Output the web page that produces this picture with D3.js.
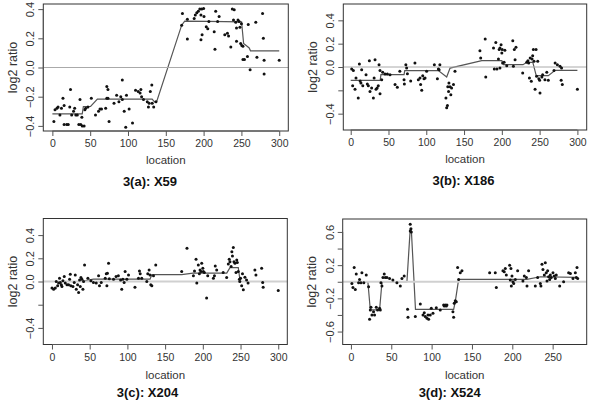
<!DOCTYPE html>
<html><head><meta charset="utf-8">
<script src="https://cdn.jsdelivr.net/npm/d3@7/dist/d3.min.js"></script>
<style>
html,body{margin:0;padding:0;background:#fff;}
text{font-family:"Liberation Sans",Arial,sans-serif;}
</style></head>
<body>
<svg id="chart" width="600" height="404"></svg>
<script>
// ---------- Panel 3(a): X59 ----------
const aTitle = "3(a): X59";
const aX = [2,3.5,6,7.5,10,12,14,15.5,15.5,19,21,24,23,25.5,28,29.5,31,33,35,36.5,37.5,39.5,42,39,43,44,47,51.5,57,61,63,65,70.5,72,72,73.5,73.5,75,81.5,85,88,90.5,92.5,92.5,95,97,98,101.5,106,110,113.5,116,117,118,120.5,125.5,127,128,129.5,131.5,132,134,137,
  172,171,178.5,178.5,187.5,189,191,193,195,197.5,200,200.5,196.5,198,196.5,203.5,205.5,207,214,215,216,218.5,220.5,228,231.5,233,236,238,240.5,239.5,242.5,243.5,243.5,245.5,247,248,250,249,250.5,252,252,254,258,259,261.5,269,270.5,278,279,280,280,300];
const aY = [-0.37,-0.29,-0.28,-0.27,-0.325,-0.28,-0.21,-0.26,-0.39,-0.39,-0.39,-0.15,-0.27,-0.325,-0.30,-0.28,-0.325,-0.325,-0.39,-0.22,-0.39,-0.40,-0.40,-0.34,-0.29,-0.28,-0.27,-0.21,-0.325,-0.30,-0.285,-0.285,-0.28,-0.21,-0.13,-0.15,-0.21,-0.37,-0.245,-0.19,-0.235,-0.20,-0.085,-0.22,-0.30,-0.41,-0.19,-0.285,-0.38,-0.155,-0.165,-0.175,-0.15,-0.20,-0.22,-0.235,-0.27,-0.245,-0.165,-0.12,-0.245,-0.27,-0.235,
  0.37,0.29,0.195,0.33,0.335,0.36,0.375,0.385,0.40,0.40,0.405,0.35,0.36,0.225,0.19,0.28,0.265,0.315,0.245,0.125,0.385,0.315,0.35,0.225,0.235,0.215,0.14,0.40,0.395,0.325,0.31,0.27,0.18,0.325,0.315,0.275,0.30,0.165,0.15,0.145,0.055,0.055,0.075,0.295,-0.015,0.31,0.07,0.37,0.20,0.05,-0.045,0.05];
const aSegX = [0,39.5,41,50.5,59.5,132,135,138,171,175,205,250.2,252.9,260.3,262,300];
const aSegY = [-0.318,-0.318,-0.267,-0.267,-0.217,-0.217,-0.235,-0.232,0.29,0.318,0.316,0.313,0.164,0.134,0.114,0.114];
const aYTicks = [-0.4,-0.2,0,0.2,0.4];
const aYLabels = ["-0.4","-0.2","0.0","0.2","0.4"];
const aXTicks = [0,50,100,150,200,250,300];

// ---------- Panel 3(b): X186 ----------
const bTitle = "3(b): X186";
const bX = [1.3,3.5,2.6,5.7,7,10,11.5,12.5,13.5,14.5,16,20.3,22,23.3,24.7,25.5,27.7,30,31,32.2,33.5,35,36.5,37.5,38.8,38.8,41,42.3,45.5,48.5,52,58.7,61.7,65,70.6,71,73,74,75,79.4,85,89.5,91.7,92.5,94,95.3,97,98.4,100.5,110.7,114.7,116,118,117,126,127,128,128.5,129.5,130,131.5,132.5,133.5,136,138,
  171,172,178,178.7,189,190,192,193.5,195.5,196.5,197.5,199,200,201,200.5,203,204,206.5,197.5,214.5,215.3,216.5,218.7,217.5,227.6,233,234.5,235.5,236.5,237.5,239,240,240.8,241.7,242.6,244,245.3,246,247.5,249,250,250.5,253,254,257,259.5,261.5,269,270.5,273.5,277,279,278.5,280,300];
const bY = [-0.017,-0.03,-0.16,-0.19,-0.095,-0.265,0.026,-0.12,-0.137,-0.023,-0.16,-0.066,-0.146,-0.16,0.054,-0.21,-0.18,-0.265,-0.094,0.063,-0.19,-0.18,-0.16,0.02,-0.23,-0.03,-0.11,-0.046,-0.06,-0.06,-0.066,-0.15,-0.174,-0.037,-0.11,-0.146,0.02,-0.009,-0.057,-0.12,0.034,-0.11,-0.094,-0.15,-0.2,-0.074,-0.1,-0.094,-0.037,0.02,-0.1,-0.017,0.02,-0.023,-0.265,-0.35,-0.33,-0.17,-0.21,-0.137,-0.17,-0.237,-0.18,-0.15,-0.037,
  0.14,0.077,0.24,-0.086,0.163,-0.017,0.21,-0.017,0.069,0.149,0.163,0.19,0.12,0.034,0.149,0.04,0.143,0.011,-0.009,0.226,0.006,0.149,0.169,0.063,-0.051,0.04,0.054,0.034,-0.094,0.077,-0.123,0.069,0.097,0.149,0.049,-0.19,0.149,-0.08,0.049,-0.1,-0.114,-0.223,-0.086,-0.066,-0.109,-0.046,-0.114,-0.031,0.034,0.02,0.006,-0.009,-0.114,-0.15,-0.19];
const bSegX = [0,39,40,70.6,71.5,116,127,131.5,173.5,200,202,228,233,241,245.5,261.5,270.5,300];
const bSegY = [-0.114,-0.114,-0.066,-0.066,-0.031,-0.031,-0.086,-0.009,0.054,0.054,0.02,0.02,0.04,0.04,-0.074,-0.074,-0.029,-0.029];
const bYTicks = [-0.4,-0.2,0,0.2,0.4];
const bYLabels = ["-0.4","","0.0","0.2","0.4"];
const bXTicks = [0,50,100,150,200,250,300];

// ---------- Panel 3(c): X204 ----------
const cTitle = "3(c): X204";
const cX = [0,2.2,4.4,5.7,7.5,8.8,10,11,12.4,13.2,14.5,16.3,17.6,19.9,22,23.4,24.3,25,27.8,29.5,30.9,32.2,34,35.3,36.6,37.5,38.4,39.7,41,41.9,43.2,47.6,51.6,55,58.7,61.8,63,65.3,70.6,72,72.8,73.5,75,76,81.6,85,88,91,92.5,94,95.7,97,99.3,101.5,110,114.7,116,117,119,125.7,127,128.8,130,131,132.4,134.6,137.6,
  172,179,187.5,189,191,192,194,195.4,196.3,197.6,198.5,200,200.7,202,205,206.5,214,215.4,216.5,218.4,227,231.6,233.8,235,236,237.5,238.5,239.3,240.4,241.3,242.6,244,245,245.7,247,248.5,249,250,251.5,252.6,253.7,255.8,258,260,269,270.4,278,279.4,280,300];
const cY = [-0.057,-0.066,-0.057,0,-0.037,-0.014,0.029,-0.009,-0.029,-0.043,0.006,0.043,-0.014,-0.029,-0.029,0.02,0.063,-0.037,-0.043,-0.009,0.057,-0.066,-0.029,-0.094,0.014,-0.043,0.034,0.02,-0.066,0,0.143,0.029,0.006,-0.009,-0.014,0.049,-0.037,-0.009,0.029,0.066,-0.037,0.071,0.157,0.023,0.02,0.043,0.049,0.014,-0.066,0.02,-0.009,0.086,0.02,0.057,-0.049,0.029,0.091,0.066,0.029,0,0.066,0.1,0.057,-0.029,-0.037,0.049,0.143,
  0.086,0.286,0.049,0.091,0.191,-0.014,0.143,0.066,0.1,0.086,0.157,0.114,0.086,0.077,-0.143,0.049,0.029,0.049,0.134,0.1,0.077,0.034,0.151,0.191,0.171,0.129,0.257,0.22,0.294,0.171,0.157,0.077,0.186,0.163,0.086,0.02,0,0.029,-0.037,0.066,-0.071,0.037,0.014,-0.014,0.1,0.057,0.114,-0.009,-0.049,-0.077];
const cSegX = [0,38,55,130,132.5,172,187,231.7,236,247,249.5,300];
const cSegY = [0,0,0.02,0.02,0.06,0.06,0.072,0.072,0.12,0.12,0,0];
const cYTicks = [-0.4,-0.2,0,0.2,0.4];
const cYLabels = ["-0.4","","0.0","0.2","0.4"];
const cXTicks = [0,50,100,150,200,250,300];

// ---------- Panel 3(d): X524 ----------
const dTitle = "3(d): X524";
const dX = [1.2,2.5,4,5.4,6.6,9.5,10.7,12.4,13.6,16,19,21.9,23.1,24,24.8,26,28,29.3,31.4,33,35.5,36.4,37.2,38.4,39.7,41.3,42.6,44.6,47.9,52,57,61.2,63.2,66,70.2,70.7,73.5,74.4,73.5,74.8,79.8,86,89.3,90.9,92.1,94.2,95.5,96.3,98.3,99.6,101.7,105.8,110.7,114.9,115.7,116.9,118.2,119,126.4,127.3,128,129.3,130.6,132.2,133.5,135.5,137.6,
  171.9,178.9,180.2,188.4,190,191.3,192.6,196.7,198.3,197.5,198.8,199.6,200.8,201.7,203.7,206.6,213.2,214.9,217.4,218.2,220.2,228.5,231.4,234.7,235.5,236.8,238,239.7,240.9,242.1,243,243.8,245,246.3,247.1,248.3,250.4,252,253.3,254.5,258.7,263.6,269.8,272,275.2,278.1,279.3,280.2,281];
const dY = [-0.02,-0.068,0.172,-0.092,0.092,-0.012,0.028,-0.012,0.108,-0.012,0.08,-0.06,-0.452,-0.34,-0.308,-0.4,-0.36,-0.4,-0.308,-0.34,-0.32,-0.34,-0.012,-0.052,0.052,0.092,0.052,0.052,0.04,0.02,-0.012,-0.052,0.04,0.068,-0.332,-0.428,0.692,0.64,0.612,0.6,-0.42,-0.268,-0.4,-0.372,-0.42,-0.44,-0.4,-0.452,-0.4,-0.32,-0.38,-0.312,-0.34,-0.28,-0.292,-0.28,-0.292,-0.28,-0.36,-0.428,-0.26,-0.228,-0.24,0.172,0.028,0.108,0.132,
  0.108,0.108,-0.068,0.132,0.12,0.16,0.08,0.2,0.16,0.02,-0.052,0.068,0,-0.02,0.028,0.132,0.008,0.068,0.052,-0.052,0.132,-0.052,0.052,-0.02,-0.052,0.212,0.148,0.08,0.228,0.108,0.008,0.132,0.06,0.028,0.08,0.052,0.108,0.068,0.04,0.08,-0.052,0,0.108,0.1,0.04,0.108,0.052,0.172,0.04];
const dSegX = [1,21,24,35.5,38.5,69.4,73.5,75,80,127.3,129.3,133.5,218,234.7,281];
const dSegY = [0,0,-0.34,-0.34,0,0,0.64,0.6,-0.332,-0.332,-0.24,0.028,0.028,0.06,0.052];
const dYTicks = [-0.6,-0.4,-0.2,0,0.2,0.4,0.6];
const dYLabels = ["-0.6","","-0.2","","0.2","","0.6"];
const dXTicks = [0,50,100,150,200,250];

// ---------- layout ----------
const panels = [
  {title:aTitle, xs:aX, ys:aY, sx:aSegX, sy:aSegY, yt:aYTicks, yl:aYLabels, xt:aXTicks,
   box:[43.3,4,288.3,131], xd:[-12,312], yd:[-0.435,0.435], zero:{w:1,c:"#aaa"},
   titleX:150, oy:0},
  {title:bTitle, xs:bX, ys:bY, sx:bSegX, sy:bSegY, yt:bYTicks, yl:bYLabels, xt:bXTicks,
   box:[343.3,4,586.7,130], xd:[-9.8,312.3], yd:[-0.54,0.54], zero:{w:1,c:"#aaa"},
   titleX:463.5, oy:-1},
  {title:cTitle, xs:cX, ys:cY, sx:cSegX, sy:cSegY, yt:cYTicks, yl:cYLabels, xt:cXTicks,
   box:[43.3,218.5,287.3,344.5], xd:[-11.5,312], yd:[-0.543,0.543], zero:{w:2,c:"#d0d0d0"},
   titleX:147.5, oy:213},
  {title:dTitle, xs:dX, ys:dY, sx:dSegX, sy:dSegY, yt:dYTicks, yl:dYLabels, xt:dXTicks,
   box:[342.7,219,586.7,344.5], xd:[-10.2,292.2], yd:[-0.756,0.756], zero:{w:2,c:"#d0d0d0"},
   titleX:449.7, oy:213}
];

const svg = d3.select("#chart");
svg.append("rect").attr("width",600).attr("height",404).attr("fill","#fff");

panels.forEach(p => {
  const [x0,y0,x1,y1] = p.box;
  const x = d3.scaleLinear().domain(p.xd).range([x0,x1]);
  const y = d3.scaleLinear().domain(p.yd).range([y1,y0]);
  const g = svg.append("g");

  // segmentation line
  const seg = p.sx.map((v,i)=>[v,p.sy[i]]);
  g.append("path").datum(seg)
    .attr("d", d3.line().x(d=>x(d[0])).y(d=>y(d[1])))
    .attr("fill","none").attr("stroke","#555").attr("stroke-width",1.2);

  // zero reference line (drawn over the segment line)
  g.append("line").attr("x1",x0).attr("x2",x1).attr("y1",y(0)).attr("y2",y(0))
    .attr("stroke",p.zero.c).attr("stroke-width",p.zero.w);

  // points
  const pts = p.xs.map((v,i)=>[v,p.ys[i]]);
  g.selectAll("circle.pt").data(pts).enter().append("circle")
    .attr("cx",d=>x(d[0])).attr("cy",d=>y(d[1])).attr("r",1.5).attr("fill","#111");

  // box
  g.append("rect").attr("x",x0).attr("y",y0).attr("width",x1-x0).attr("height",y1-y0)
    .attr("fill","none").attr("stroke","#333").attr("stroke-width",1);

  // x axis
  const xa = g.append("g").attr("transform",`translate(0,${y1})`)
    .call(d3.axisBottom(x).tickValues(p.xt).tickFormat(d3.format("d")).tickSize(5).tickPadding(4));
  xa.select(".domain").attr("d",`M${x(p.xt[0])},0H${x(p.xt[p.xt.length-1])}`).attr("stroke","#555");
  xa.selectAll(".tick line").attr("stroke","#555");
  xa.selectAll(".tick text").attr("font-size",10.5).attr("fill","#333")
    .attr("font-family","Liberation Sans, Arial, sans-serif");

  // y axis
  const ya = g.append("g").attr("transform",`translate(${x0},0)`)
    .call(d3.axisLeft(y).tickValues(p.yt).tickFormat((d,i)=>p.yl[i]).tickSize(5));
  ya.select(".domain").attr("d",`M0,${y(p.yt[0])}V${y(p.yt[p.yt.length-1])}`).attr("stroke","#555");
  ya.selectAll(".tick line").attr("stroke","#555");
  ya.selectAll(".tick text").attr("font-size",11).attr("fill","#333")
    .attr("font-family","Liberation Sans, Arial, sans-serif")
    .attr("text-anchor","middle").attr("x",0).attr("dy",0)
    .attr("transform","translate(-13,0) rotate(-90)")
    .attr("dominant-baseline","central")
    .text((d,i)=>p.yl[i].replace("-","\u2212"));

  // axis titles
  svg.append("text").attr("x",(x0+x1)/2).attr("y",164+p.oy+ (p.oy>100?1.5:0))
    .attr("text-anchor","middle").attr("font-size",11.5).attr("fill","#333").text("location");
  svg.append("text").attr("transform",`translate(${x0-30.5},${(y0+y1)/2}) rotate(-90)`)
    .attr("text-anchor","middle").attr("dominant-baseline","central")
    .attr("font-size",12.5).attr("fill","#333").text("log2 ratio");
  svg.append("text").attr("x",p.titleX).attr("y",186+p.oy+(p.oy>100?-2:0))
    .attr("text-anchor","middle").attr("font-size",13).attr("font-weight","bold")
    .attr("fill","#111").text(p.title);
});
</script>
</body></html>
